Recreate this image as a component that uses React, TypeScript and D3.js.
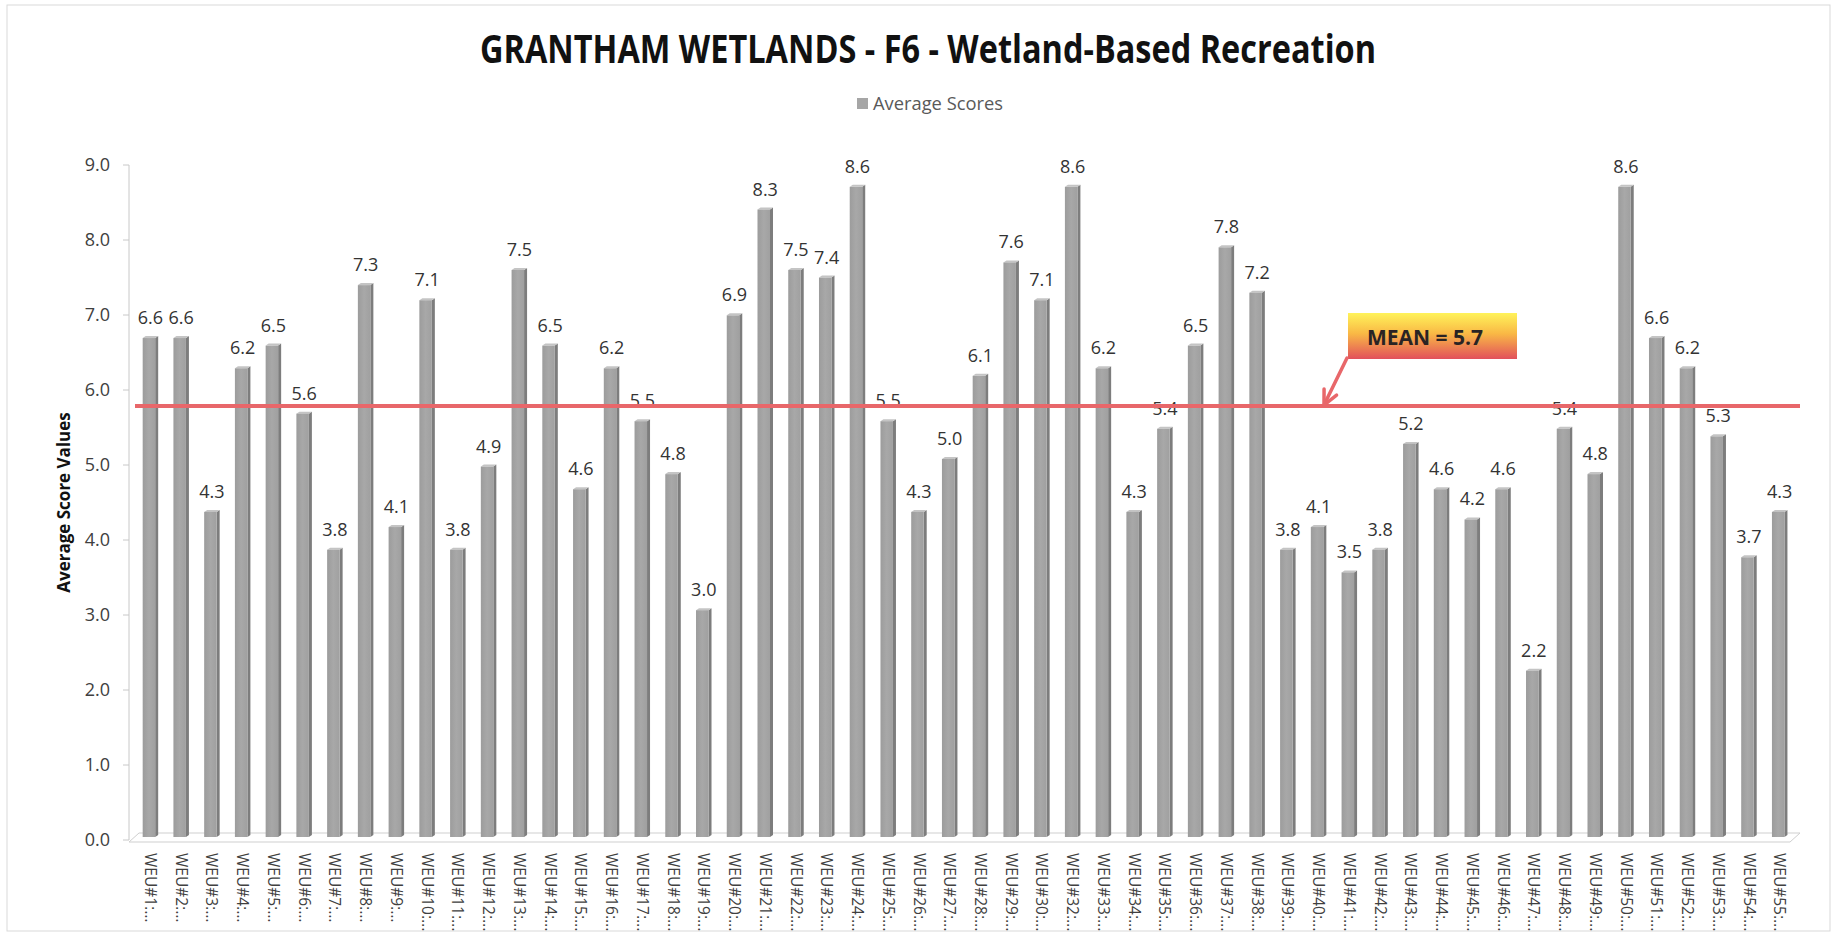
import React from "react";
import * as d3 from "d3";

const categories = [
  "WEU#1:...", "WEU#2:...", "WEU#3:...", "WEU#4:...", "WEU#5:...", "WEU#6:...", "WEU#7:...", "WEU#8:...", "WEU#9:...", "WEU#10:...",
  "WEU#11:...", "WEU#12:...", "WEU#13:...", "WEU#14:...", "WEU#15:...", "WEU#16:...", "WEU#17:...", "WEU#18:...", "WEU#19:...", "WEU#20:...",
  "WEU#21:...", "WEU#22:...", "WEU#23:...", "WEU#24:...", "WEU#25:...", "WEU#26:...", "WEU#27:...", "WEU#28:...", "WEU#29:...", "WEU#30:...",
  "WEU#32:...", "WEU#33:...", "WEU#34:...", "WEU#35:...", "WEU#36:...", "WEU#37:...", "WEU#38:...", "WEU#39:...", "WEU#40:...",
  "WEU#41:...", "WEU#42:...", "WEU#43:...", "WEU#44:...", "WEU#45:...", "WEU#46:...", "WEU#47:...", "WEU#48:...", "WEU#49:...", "WEU#50:...",
  "WEU#51:...", "WEU#52:...", "WEU#53:...", "WEU#54:...", "WEU#55:...",
];

const scores = [
  6.6, 6.6, 4.3, 6.2, 6.5, 5.6, 3.8, 7.3, 4.1, 7.1,
  3.8, 4.9, 7.5, 6.5, 4.6, 6.2, 5.5, 4.8, 3.0, 6.9,
  8.3, 7.5, 7.4, 8.6, 5.5, 4.3, 5.0, 6.1, 7.6, 7.1,
  8.6, 6.2, 4.3, 5.4, 6.5, 7.8, 7.2, 3.8, 4.1,
  3.5, 3.8, 5.2, 4.6, 4.2, 4.6, 2.2, 5.4, 4.8, 8.6,
  6.6, 6.2, 5.3, 3.7, 4.3,
];

const yTicks = [0, 1, 2, 3, 4, 5, 6, 7, 8, 9];
const meanValue = 5.7;
const title = "GRANTHAM WETLANDS - F6 - Wetland-Based Recreation";
const seriesName = "Average Scores";
const yAxisTitle = "Average Score Values";

const FONT = "'Open Sans', 'Noto Sans', sans-serif";

export default function App() {
  const W = 1836;
  const H = 935;

  const x = d3.scaleBand<string>().domain(categories).range([135, 1795]).paddingInner(0.5).paddingOuter(0.25);
  const yAxis = d3.scaleLinear().domain([0, 9]).range([840, 165]);
  // bars sit slightly back in the 3D floor, so they use their own projected scale
  const yBar = d3.scaleLinear().domain([0, 9]).range([837, 837 - 9 * 75.6]);
  const fmt = d3.format(".1f");

  const frontW = 12.5;
  const depth = 3;

  const meanY = yBar(meanValue);

  // arrow
  const ax0 = 1347, ay0 = 358, ax1 = 1324, ay1 = meanY - 1;
  const ang = Math.atan2(ay1 - ay0, ax1 - ax0);
  const ah = 16;
  const wing = (a: number) => [ax1 - ah * Math.cos(ang + a), ay1 - ah * Math.sin(ang + a)];
  const w1 = wing(0.45);
  const w2 = wing(-0.45);

  return (
    <svg width={W} height={H} style={{ display: "block", position: "absolute", left: 0, top: 0, background: "#fff" }}>
      <defs>
        <linearGradient id="meanGrad" x1="0" y1="0" x2="0" y2="1">
          <stop offset="0%" stopColor="#fff35a" />
          <stop offset="45%" stopColor="#f9b845" />
          <stop offset="100%" stopColor="#e2505c" />
        </linearGradient>
        <linearGradient id="barGrad" x1="0" y1="0" x2="1" y2="0">
          <stop offset="0%" stopColor="#9c9c9c" />
          <stop offset="50%" stopColor="#a8a8a8" />
          <stop offset="100%" stopColor="#a0a0a0" />
        </linearGradient>
      </defs>
      <rect x={7} y={5} width={1823} height={926} fill="#fff" stroke="#d9d9d9" strokeWidth={1} />

      <text x={928} y={63} textAnchor="middle" fontFamily={FONT} fontWeight={700} fontSize={40} fill="#111" textLength={896} lengthAdjust="spacingAndGlyphs">
        {title}
      </text>

      {/* legend */}
      <rect x={857} y={98} width={11} height={11} fill="#a6a6a6" />
      <text x={873} y={110} fontFamily={FONT} fontSize={17.5} fill="#595959" textLength={130} lengthAdjust="spacingAndGlyphs">
        {seriesName}
      </text>

      {/* y axis */}
      <line x1={129} x2={129} y1={yAxis(9)} y2={yAxis(0)} stroke="#c8c8c8" strokeWidth={1} />
      {yTicks.map((t) => (
        <g key={t}>
          <line x1={123} x2={129} y1={yAxis(t)} y2={yAxis(t)} stroke="#c8c8c8" />
          <text x={110} y={yAxis(t)} dy="0.36em" textAnchor="end" fontFamily={FONT} fontSize={18} fill="#404040">
            {fmt(t)}
          </text>
        </g>
      ))}
      <text transform={`translate(70, ${(yAxis(0) + yAxis(9)) / 2}) rotate(-90)`} textAnchor="middle" fontFamily={FONT} fontWeight={700} fontSize={17} fill="#111">
        {yAxisTitle}
      </text>

      {/* floor */}
      <polygon points={`129,842 1790,842 1800,833 139,833`} fill="none" stroke="#cfcfcf" strokeWidth={1} />

      {/* bars */}
      {categories.map((c, i) => {
        const bx = x(c) as number;
        const top = yBar(scores[i]);
        const bottom = yBar(0);
        return (
          <g key={c}>
            <polygon
              points={`${bx + frontW},${top} ${bx + frontW + depth},${top - 2} ${bx + frontW + depth},${bottom - 2} ${bx + frontW},${bottom}`}
              fill="#7d7d7d"
            />
            <polygon
              points={`${bx},${top} ${bx + depth},${top - 2} ${bx + frontW + depth},${top - 2} ${bx + frontW},${top}`}
              fill="#c4c4c4"
            />
            <rect x={bx} y={top} width={frontW} height={bottom - top} fill="url(#barGrad)" />
          </g>
        );
      })}

      {/* data labels */}
      {categories.map((c, i) => (
        <text
          key={c}
          x={(x(c) as number) + (frontW + depth) / 2}
          y={yBar(scores[i]) - 14}
          textAnchor="middle"
          fontFamily={FONT}
          fontSize={18}
          fill="#333"
        >
          {fmt(scores[i])}
        </text>
      ))}

      {/* x labels */}
      {categories.map((c) => (
        <text
          key={c}
          transform={`translate(${(x(c) as number) + (frontW + depth) / 2}, 853) rotate(90)`}
          dy="0.35em"
          fontFamily={FONT}
          fontSize={15.5}
          fill="#404040"
        >
          {c}
        </text>
      ))}

      {/* mean line */}
      <line x1={135} x2={1800} y1={meanY} y2={meanY} stroke="#e8676a" strokeWidth={4} />

      {/* mean callout */}
      <rect x={1348} y={313} width={169} height={46} fill="url(#meanGrad)" />
      <text x={1425} y={345} textAnchor="middle" fontFamily={FONT} fontWeight={700} fontSize={21} fill="#2a2424">
        MEAN = {fmt(meanValue)}
      </text>
      <line x1={ax0} y1={ay0} x2={ax1} y2={ay1} stroke="#e8676a" strokeWidth={3.5} strokeLinecap="round" />
      <polyline points={`${w1[0]},${w1[1]} ${ax1},${ay1} ${w2[0]},${w2[1]}`} fill="none" stroke="#e8676a" strokeWidth={3.5} strokeLinecap="round" strokeLinejoin="round" />
    </svg>
  );
}
